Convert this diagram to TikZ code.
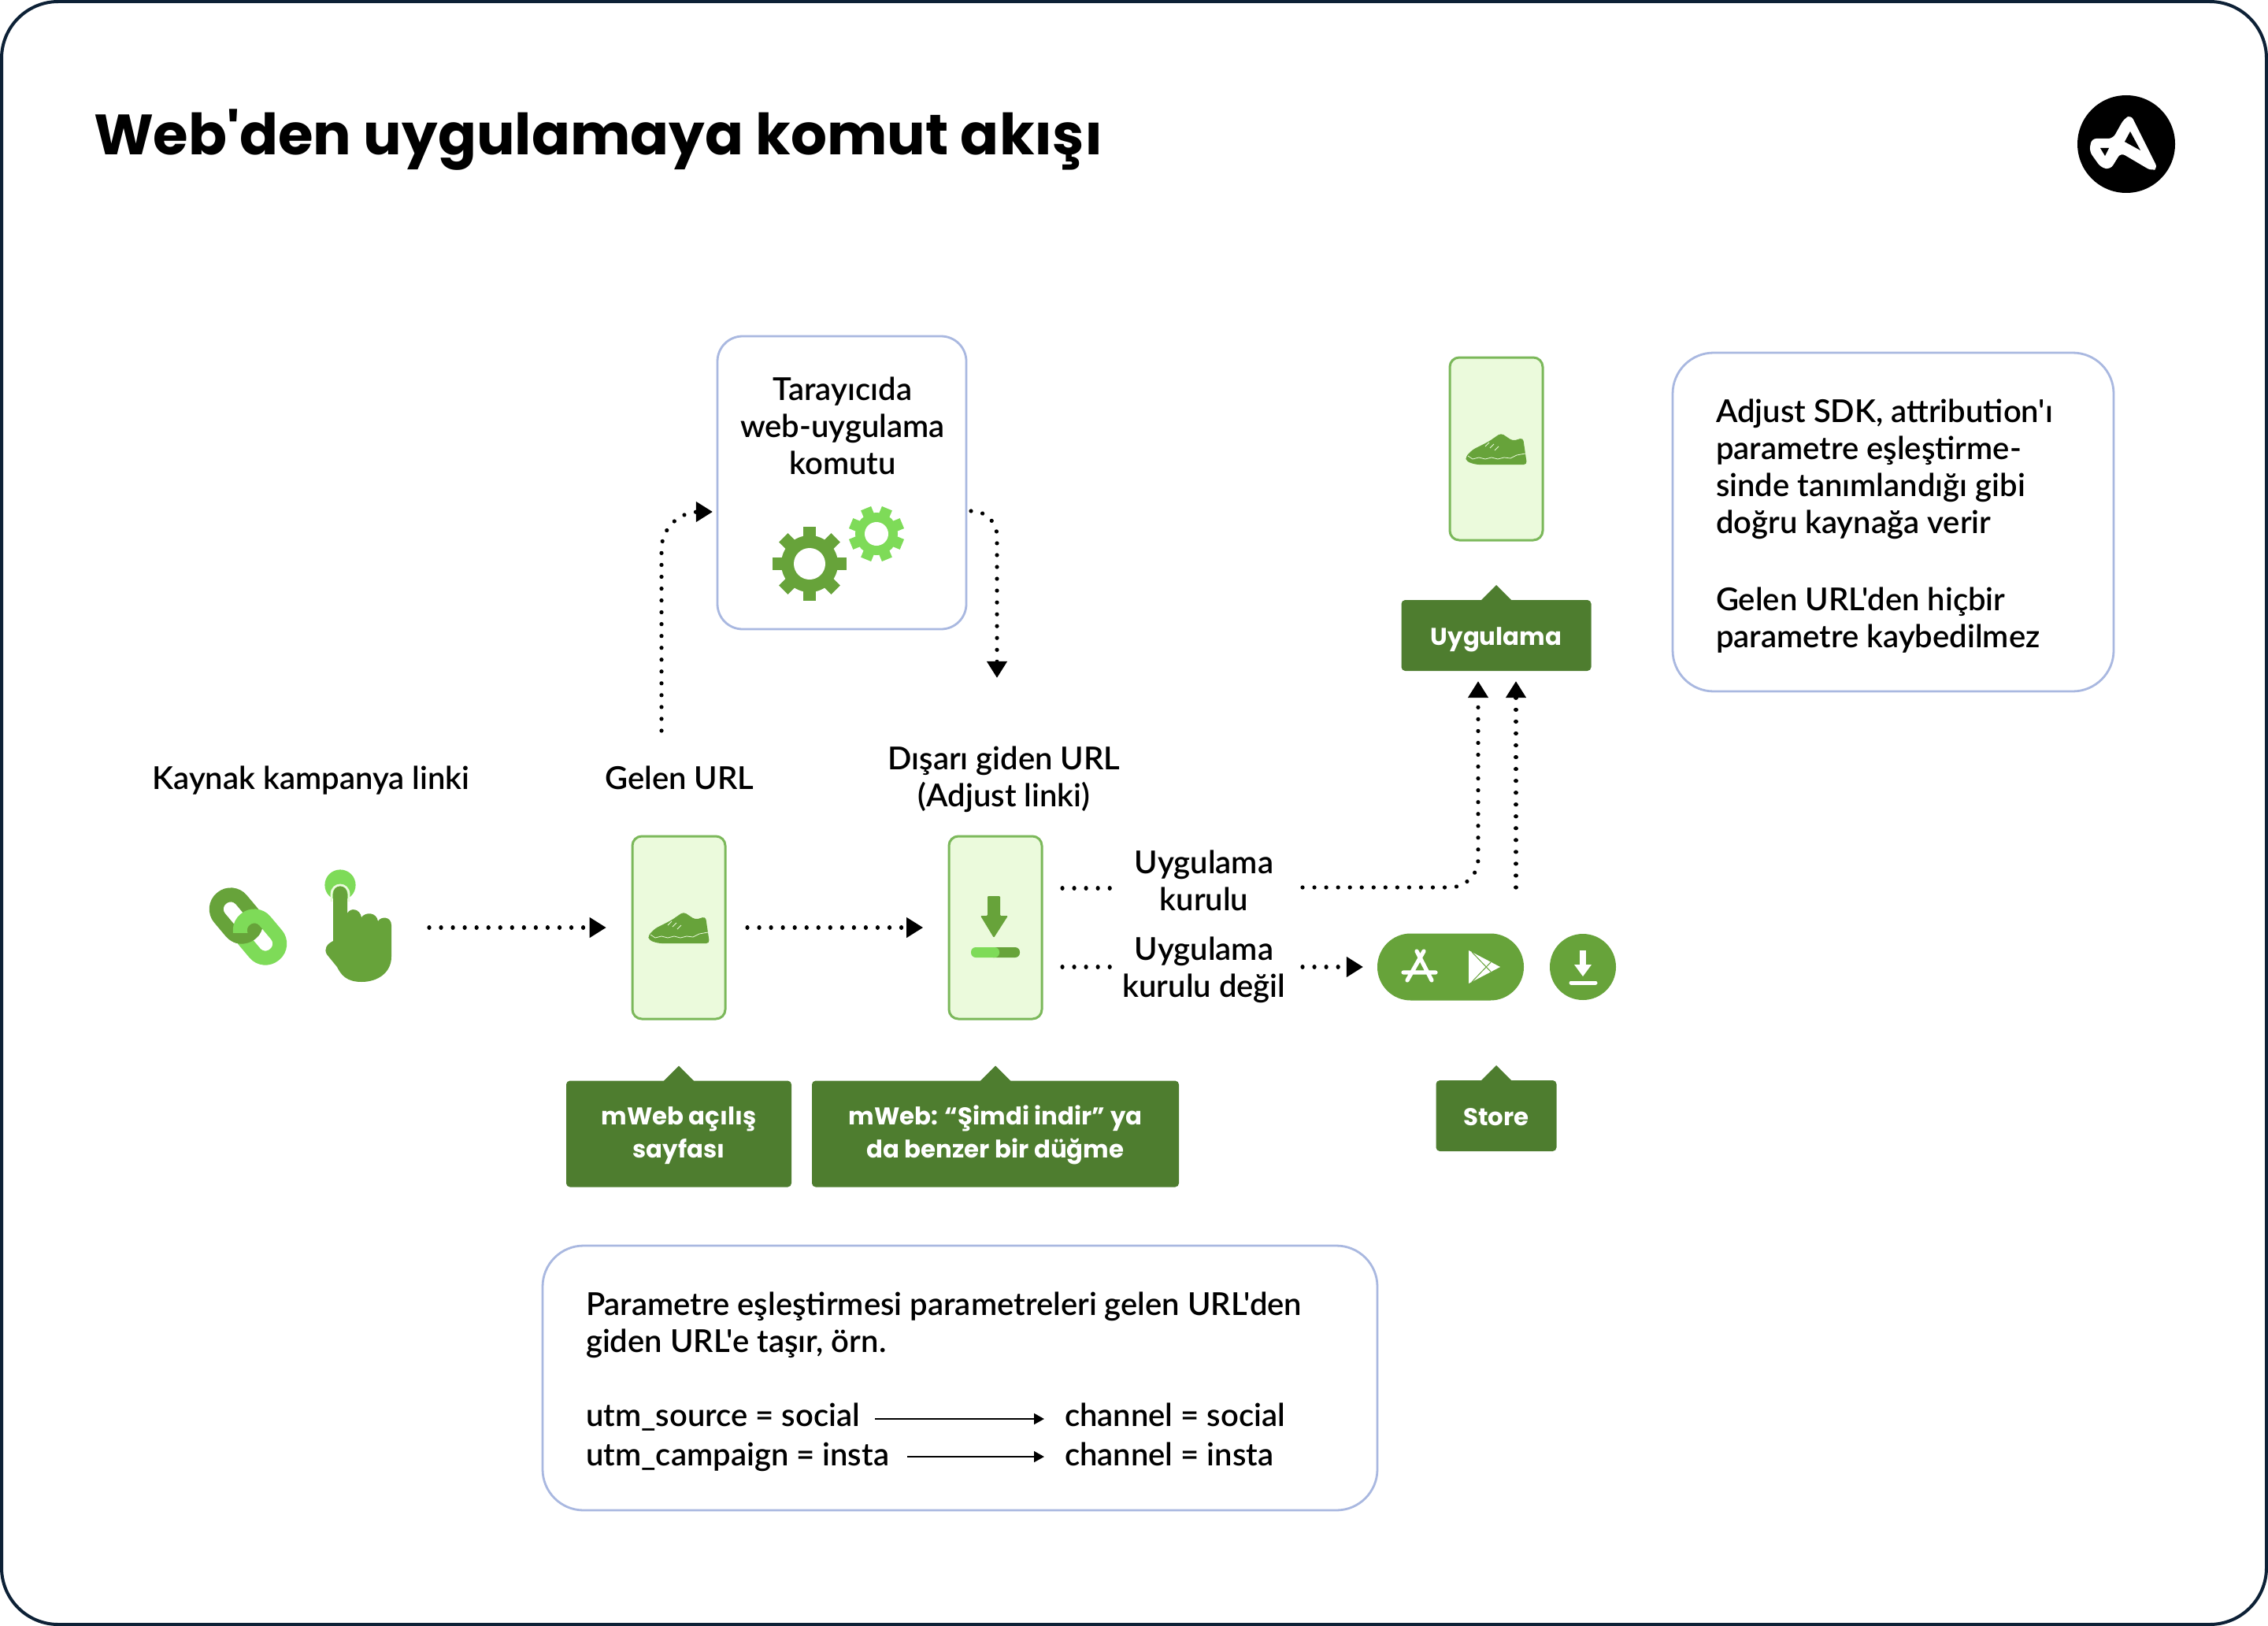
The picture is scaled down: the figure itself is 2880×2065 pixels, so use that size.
\documentclass[tikz,border=0pt]{standalone}
\usepackage{fontspec}
\usetikzlibrary{arrows.meta,calc}
\setmainfont{Lato}
\newfontfamily\bodyf{Lato Semibold}
\newfontfamily\titlef{Poppins}
\newfontfamily\tagf{Poppins}
\definecolor{navy}{HTML}{0D2136}
\definecolor{gicon}{HTML}{67A33A}
\definecolor{gtag}{HTML}{4E7D2F}
\definecolor{glight}{HTML}{7EDB58}
\definecolor{gfill}{HTML}{EBFADC}
\definecolor{gline}{HTML}{7BB85A}
\definecolor{bluebox}{HTML}{A9B8E0}
\newcommand\tagstrut{\rule[-3.6pt]{0pt}{13.2pt}}
\newcommand\tagtop{\rule[-2pt]{0pt}{9pt}}
\newcommand\tagbot{\rule[-2pt]{0pt}{7pt}}
\tikzset{
  every node/.style={inner sep=0pt,outer sep=0pt},
  phone/.style={draw=gline,fill=gfill,line width=.75pt,rounded corners=3pt,minimum width=29.5pt,minimum height=58pt},
  panel/.style={draw=bluebox,fill=white,line width=.7pt,rounded corners=#1},
  tagbox/.style={fill=gtag,rounded corners=1.2pt,text=white,align=center,font=\tagf\bfseries\fontsize{7.7}{10.5}\selectfont},
  txt/.style={font=\bodyf\fontsize{10}{11.75}\selectfont,text=black},
  ctr/.style={txt,align=center},
  lft/.style={txt,align=left,anchor=west},
  flow/.style={line width=1.3pt,line cap=round,dash pattern=on 0.01pt off 3.75pt,-{Triangle[length=5.3pt,width=6.2pt]}},
  flowplain/.style={line width=1.3pt,line cap=round,dash pattern=on 0.01pt off 3.75pt},
  thin arrow/.style={line width=.55pt,-{Triangle[length=3.2pt,width=3.4pt]}},
  linkring/.style={line width=4.5pt,rounded corners=4.4pt,rotate=-50,minimum width=14.5pt,minimum height=9pt},
}
\newcommand\gearicon[8]{%
  \begin{scope}[shift={(#1,#2)}]
    \foreach \a in {0,45,...,315}{\fill[#8,rotate=\a+#7] (-#6/2,0) rectangle (#6/2,#3);}
    \fill[#8] (0,0) circle[radius=#4*.25pt];
    \fill[white] (0,0) circle[radius=#5*.25pt];
  \end{scope}}
\newcommand\shoeicon[1]{%
  \begin{scope}[shift={(#1)}]
    \fill[gicon,rounded corners=1pt] (39,20) -- (34,-14) -- (21,-10) -- (6,-20) -- (-10,-9) -- (-30,1) -- (-39,10) -- (-38,16) -- (-26,20) -- cycle;
    \draw[gfill,line width=.2pt] (-36,9) -- (-30,13) -- (-22,11) -- (-14,13) -- (-6,11) -- (2,13) -- (10,11) -- (18,12) -- (26,8) -- (37,6);
    \draw[gfill,line width=.2pt] (-14,-3) -- (-9,-8) (-8,-1) -- (-3,-6) (-2,2) -- (3,-3);
  \end{scope}}
\begin{document}
\begin{tikzpicture}[x=0.25pt,y=-0.25pt]
\useasboundingbox (0,0) rectangle (2880,2065);
\fill[white] (0,0) rectangle (2880,2065);
\draw[navy,line width=1pt,rounded corners=18pt] (2,2) rectangle (2878,2063);

% title
\node[anchor=base west,font=\titlef\bfseries\fontsize{18.05}{24}\selectfont] (title) at (119,196) {Web\char"27 den uygulamaya komut akışı};

% logo
\node[circle,fill=black,minimum size=31pt] (logo) at (2700,183) {};
\fill[white,rounded corners=1.5pt] (2706,146) -- (2740,214) -- (2732,217) -- (2693,194) -- (2680,215) -- (2668,213) -- (2653,192) -- (2656,176) -- (2683,176) -- (2697,151) -- cycle;
\fill[black] (2705,167) -- (2718,191) -- (2698,180) -- cycle;
\fill[black] (2667,188) -- (2678,188) -- (2673,198) -- cycle;

% panels
\node[panel=8pt,minimum width=79pt,minimum height=93pt] (browser) at (1069,613) {};
\node[panel=13pt,minimum width=140pt,minimum height=107.5pt] (note) at (2404,663) {};
\node[panel=13pt,minimum width=265pt,minimum height=84pt] (param) at (1219,1750) {};

% browser content
\node[ctr] (brtext) at (1070,546) {\strut Tarayıcıda\\web-uygulama\\komutu\strut};
\gearicon{1028}{716}{47}{36}{20}{16}{0}{gicon}
\gearicon{1113}{678}{35}{27}{15}{14}{22.5}{glight}

% note
\node[lft] (note1) at (2179,598) {\strut Adjust SDK, attribution\char"27 ı\\parametre eşleştirme-\\sinde tanımlandığı gibi\\doğru kaynağa verir\strut};
\node[lft] (note2) at (2179,790) {\strut Gelen URL\char"27 den hiçbir\\parametre kaybedilmez\strut};

% param
\node[lft] (par1) at (744,1685) {\strut Parametre eşleştirmesi parametreleri gelen URL\char"27 den\\giden URL\char"27 e taşır, örn.\strut};
\node[txt,anchor=base west] (src) at (744,1811) {utm\_source = social};
\node[txt,anchor=base west] (cam) at (744,1861) {utm\_campaign = insta};
\node[txt,anchor=base west] (ch1) at (1352,1811) {channel = social};
\node[txt,anchor=base west] (ch2) at (1352,1861) {channel = insta};
\coordinate (s1) at (1111,1802); \coordinate (e1) at (1326,1802);
\coordinate (s2) at (1152,1850); \coordinate (e2) at (1326,1850);
\draw[thin arrow] (s1) -- (e1);
\draw[thin arrow] (s2) -- (e2);

% headings
\node[txt,anchor=base] (kaynak) at (395,1002) {Kaynak kampanya linki};
\node[txt,anchor=base] (gelen) at (863,1002) {Gelen URL};
\node[ctr] (disari) at (1275,992) {\strut Dışarı giden URL\\(Adjust linki)\strut};

% link icon
\node[draw=gicon,linkring] (link1) at (300,1163) {};
\node[draw=glight,linkring] (link2) at (330,1190) {};
\begin{scope}
  \clip (296,1185) rectangle (345,1205);
  \node[draw=gicon,linkring] at (300,1163) {};
\end{scope}

% hand icon
\fill[glight] (432,1124) circle[radius=4.9pt];
\draw[gfill,line width=.7pt] (421,1145) -- (421,1136) .. controls (421,1120) and (443,1120) .. (443,1136) -- (443,1145);
\node[minimum width=21pt,minimum height=10pt] (hand) at (455,1178) {};
\fill[gicon] (423,1195) -- (423,1136) .. controls (423,1122) and (441,1122) .. (441,1136) -- (441,1160)
  .. controls (445,1152) and (457,1154) .. (459,1165) .. controls (464,1158) and (478,1158) .. (480,1170)
  .. controls (484,1163) and (497,1164) .. (497,1175) -- (497,1215) .. controls (497,1235) and (480,1247) .. (459,1247)
  .. controls (440,1247) and (433,1238) .. (428,1228) -- (415,1212) .. controls (411,1205) and (415,1199) .. (423,1195) -- cycle;

% phones
\node[phone] (p1) at (862,1178) {};
\node[phone] (p2) at (1264,1178) {};
\node[phone] (p3) at (1900,570) {};
\shoeicon{p1.center}
\shoeicon{p3.center}
% download icon in p2
\fill[gicon,rounded corners=.3pt] (1254,1138) -- (1270,1138) -- (1270,1163) -- (1280,1163) -- (1262,1191) -- (1245,1163) -- (1254,1163) -- cycle;
\fill[gicon,rounded corners=1.5pt] (1255,1203) rectangle (1295,1216);
\fill[glight,rounded corners=1.5pt] (1233,1203) rectangle (1269,1216);

% tags
\node[tagbox,minimum width=71.5pt,minimum height=33.75pt] (t1) at (862,1440) {\tagtop mWeb açılış\\sayfası\tagbot};
\node[tagbox,minimum width=116.5pt,minimum height=33.75pt] (t2) at (1264,1440) {\tagtop mWeb: “Şimdi indir” ya\\da benzer bir düğme\tagbot};
\node[tagbox,minimum width=38.25pt,minimum height=22.5pt] (t3) at (1900,1417) {\tagstrut Store};
\node[tagbox,minimum width=60.25pt,minimum height=22.5pt] (t4) at (1900,807) {\tagstrut Uygulama};
\foreach \t in {t1,t2,t3,t4}{\fill[gtag] (\t.north) ++(-20,1) -- ++(20,-20) -- ++(20,20) -- cycle;}

% store
\node[fill=gicon,rounded corners=10.6pt,minimum width=46.5pt,minimum height=21.25pt] (store) at (1842,1228) {};
\node[circle,fill=gicon,minimum size=21pt] (dl) at (2010,1228) {};
\draw[white,line width=1.3pt,line cap=round] (1799,1208) -- (1818,1245) (1808,1208) -- (1787,1245) (1782,1235) -- (1823,1235);
\fill[white] (1865,1207) -- (1905,1228) -- (1865,1249) -- cycle;
\draw[gicon,line width=.25pt] (1869,1247) -- (1893,1222) (1869,1209) -- (1893,1234);
\draw[white,line width=2pt] (2010,1207) -- (2010,1228);
\fill[white] (1999,1225) -- (2021,1225) -- (2010,1240) -- cycle;
\draw[white,line width=1.25pt,line cap=round] (1995,1248) -- (2026,1248);

% labels
\node[ctr] (inst) at (1529,1124) {\strut Uygulama\\kurulu\strut};
\node[ctr] (notinst) at (1529,1234) {\strut Uygulama\\kurulu değil\strut};

% connectors
\draw[flow,shorten <=12pt,shorten >=8.3pt] (hand.east) -- (p1.west |- hand.east);
\draw[flow,shorten <=7pt,shorten >=8.2pt] (p1.east) -- (p2.west);
\coordinate (a) at (840,928); \coordinate (b) at (905,650);
\draw[flow,rounded corners=12pt] (a) |- (b);
\coordinate (c) at (1233,649); \coordinate (d) at (1266,861);
\draw[flow,rounded corners=8pt] (c) -| (d);
\coordinate (r1) at (1349,1128); \coordinate (r2) at (1413,1128);
\draw[flowplain] (r1) -- (r2);
\coordinate (r3) at (1654,1127); \coordinate (r4) at (1877,865);
\draw[flow,rounded corners=9pt] (r3) -| (r4);
\coordinate (r5) at (1925,1127); \coordinate (r6) at (1925,865);
\draw[flow] (r5) -- (r6);
\coordinate (r7) at (1349,1228); \coordinate (r8) at (1410,1228);
\draw[flowplain] (r7) -- (r8);
\coordinate (r9) at (1654,1228);
\draw[flow,shorten >=4.5pt] (r9) -- (store.west);
\end{tikzpicture}
\end{document}
